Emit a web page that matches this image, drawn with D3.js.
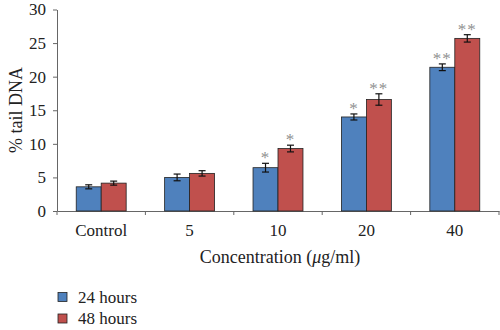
<!DOCTYPE html>
<html>
<head>
<meta charset="utf-8">
<script src="https://cdn.jsdelivr.net/npm/d3@7"></script>
<style>
  body { margin: 0; background: #fff; }
  svg text { font-family: "Liberation Serif", "DejaVu Serif", serif; }
</style>
</head>
<body>
<svg id="chart" width="500" height="330"></svg>
<script>
const categories = ['Control', '5', '10', '20', '40'];
const seriesNames = ['24 hours', '48 hours'];
const values24 = [3.6, 5.0, 6.45, 14.0, 21.4];
const values48 = [4.15, 5.6, 9.3, 16.6, 25.7];
const err24 = [0.3, 0.5, 0.65, 0.45, 0.5];
const err48 = [0.3, 0.4, 0.5, 0.85, 0.55];
const marks24 = ['', '', '*', '*', '**'];
const marks48 = ['', '', '*', '**', '**'];
const yTicks = [0, 5, 10, 15, 20, 25, 30];
const colors = ['#4f81bd', '#c0504d'];

const svg = d3.select('#chart');

const y = d3.scaleLinear().domain([0, 30]).range([211, 9.5]);
const x0 = d3.scaleBand().domain(categories).range([57, 499]).paddingInner(0).paddingOuter(0);
const x1 = d3.scaleBand().domain(seriesNames).range([0, x0.bandwidth()]).paddingInner(0).paddingOuter(0.77);

const rows = categories.map((c, i) => ({
  cat: c,
  bars: [
    {s: seriesNames[0], v: values24[i], e: err24[i], m: marks24[i], col: colors[0]},
    {s: seriesNames[1], v: values48[i], e: err48[i], m: marks48[i], col: colors[1]}
  ]
}));

/* Axes */
const yAxis = d3.axisLeft(y).tickValues(yTicks).tickSize(4).tickSizeOuter(0).tickPadding(7);
const gy = svg.append('g').attr('transform', 'translate(57,0)').call(yAxis);
gy.select('.domain').attr('stroke', '#666');
gy.selectAll('.tick line').attr('stroke', '#666');
gy.selectAll('text').style('font-size', '17px').attr('fill', '#222');

const xAxis = d3.axisBottom(x0).tickSize(0).tickPadding(13);
const gx = svg.append('g').attr('transform', 'translate(0,211)').call(xAxis);
gx.select('.domain').attr('stroke', '#666');
gx.selectAll('text').style('font-size', '17px').attr('fill', '#222');
// ticks between categories
gx.selectAll('.sep').data(categories.concat(['end'])).enter()
  .append('line').attr('class', 'sep')
  .attr('x1', (d, i) => i < categories.length ? x0(d) : x0.range()[1])
  .attr('x2', (d, i) => i < categories.length ? x0(d) : x0.range()[1])
  .attr('y1', 0).attr('y2', 4)
  .attr('stroke', '#666');

/* Bars */
const groups = svg.append('g').selectAll('g').data(rows).enter()
  .append('g').attr('transform', d => `translate(${x0(d.cat)},0)`);

groups.selectAll('rect').data(d => d.bars).enter()
  .append('rect')
  .attr('x', d => x1(d.s))
  .attr('y', d => y(d.v))
  .attr('width', x1.bandwidth())
  .attr('height', d => y(0) - y(d.v))
  .attr('fill', d => d.col)
  .attr('stroke', '#222')
  .attr('stroke-width', 0.8);

/* Error bars */
const eb = groups.selectAll('g.err').data(d => d.bars).enter()
  .append('g').attr('class', 'err')
  .attr('stroke', '#111').attr('stroke-width', 1.2);
const cx = d => x1(d.s) + x1.bandwidth() / 2;
eb.append('line').attr('x1', cx).attr('x2', cx)
  .attr('y1', d => y(d.v + d.e)).attr('y2', d => y(d.v - d.e));
eb.append('line').attr('x1', d => cx(d) - 3.5).attr('x2', d => cx(d) + 3.5)
  .attr('y1', d => y(d.v + d.e)).attr('y2', d => y(d.v + d.e));
eb.append('line').attr('x1', d => cx(d) - 3.5).attr('x2', d => cx(d) + 3.5)
  .attr('y1', d => y(d.v - d.e)).attr('y2', d => y(d.v - d.e));

/* Significance marks */
groups.selectAll('text.sig').data(d => d.bars.filter(b => b.m)).enter()
  .append('text').attr('class', 'sig')
  .attr('x', cx)
  .attr('y', d => y(d.v + d.e))
  .attr('text-anchor', 'middle')
  .attr('fill', '#909090')
  .style('font-size', '17px')
  .style('letter-spacing', '1px')
  .text(d => d.m);

/* Axis titles */
svg.append('text')
  .attr('transform', 'translate(22,110) rotate(-90)')
  .attr('text-anchor', 'middle')
  .attr('fill', '#222')
  .style('font-size', '18px')
  .text('% tail DNA');

const xt = svg.append('text')
  .attr('x', 280).attr('y', 263)
  .attr('text-anchor', 'middle')
  .attr('fill', '#222')
  .style('font-size', '18px');
xt.append('tspan').text('Concentration (');
xt.append('tspan').style('font-style', 'italic').text('μ');
xt.append('tspan').text('g/ml)');

/* Legend */
const legend = svg.append('g').selectAll('g').data(seriesNames).enter()
  .append('g').attr('transform', (d, i) => `translate(58,${292.5 + i * 21.5})`);
legend.append('rect').attr('width', 9).attr('height', 9)
  .attr('fill', (d, i) => colors[i]).attr('stroke', '#222').attr('stroke-width', 0.8);
legend.append('text').attr('x', 20).attr('y', 10)
  .attr('fill', '#222')
  .style('font-size', '17px').text(d => d);
</script>
</body>
</html>
